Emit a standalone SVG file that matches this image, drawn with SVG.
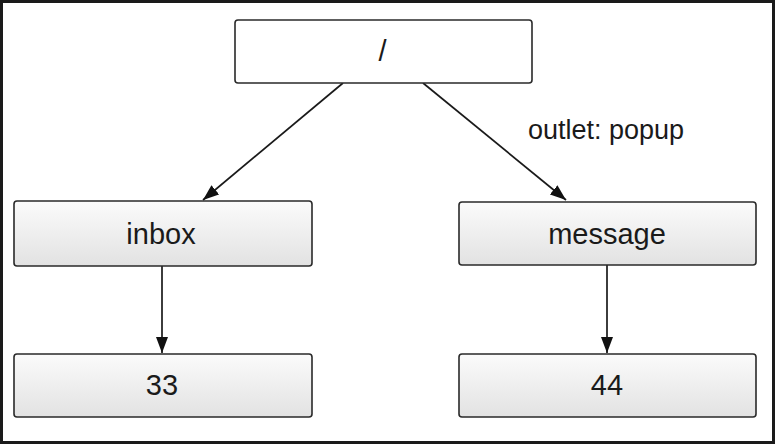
<svg xmlns="http://www.w3.org/2000/svg" width="776" height="445" viewBox="0 0 776 445">
<defs>
<style>
.box{stroke:#2a2a2a;stroke-width:1.6}
.grad{fill:url(#g)}
.lbl{font-family:"Liberation Sans",Arial,sans-serif;font-size:29px;fill:#1a1a1a;text-anchor:middle}
.edge{stroke:#1a1a1a;stroke-width:1.7;fill:none;marker-end:url(#arr)}
.elbl{font-family:"Liberation Sans",Arial,sans-serif;font-size:27px;fill:#1a1a1a}
</style>
<linearGradient id="g" x1="0" y1="0" x2="0" y2="1">
<stop offset="0" stop-color="#fbfbfb"/>
<stop offset="1" stop-color="#e2e2e2"/>
</linearGradient>
<marker id="arr" viewBox="0 0 16 12" refX="16" refY="6" markerWidth="16" markerHeight="12" markerUnits="userSpaceOnUse" orient="auto">
<path d="M0,0 L16,6 L0,12 Z" fill="#111"/>
</marker>
</defs>
<rect x="1.5" y="1.5" width="772" height="441" fill="#fff" stroke="#1a1a1a" stroke-width="3"/>
<g id="edges">
<line class="edge" x1="343" y1="83" x2="203" y2="200"/>
<line class="edge" x1="423" y1="83" x2="566" y2="200"/>
<line class="edge" x1="162" y1="266" x2="162" y2="353"/>
<line class="edge" x1="607" y1="265" x2="607" y2="353"/>
<text class="elbl" x="528" y="139">outlet: popup</text>
</g>
<g id="root">
<rect class="box" x="235" y="20" width="297" height="63" rx="3" fill="#fff"/>
<text class="lbl" x="382.5" y="61">/</text>
</g>
<g id="inbox">
<rect class="box grad" x="14" y="201" width="298" height="65" rx="3"/>
<text class="lbl" x="161" y="244">inbox</text>
</g>
<g id="message">
<rect class="box grad" x="459" y="202" width="297" height="63" rx="3"/>
<text class="lbl" x="607" y="244">message</text>
</g>
<g id="n33">
<rect class="box grad" x="14" y="354" width="298" height="63" rx="3"/>
<text class="lbl" x="162" y="395">33</text>
</g>
<g id="n44">
<rect class="box grad" x="459" y="354" width="297" height="63" rx="3"/>
<text class="lbl" x="607" y="395">44</text>
</g>
</svg>
